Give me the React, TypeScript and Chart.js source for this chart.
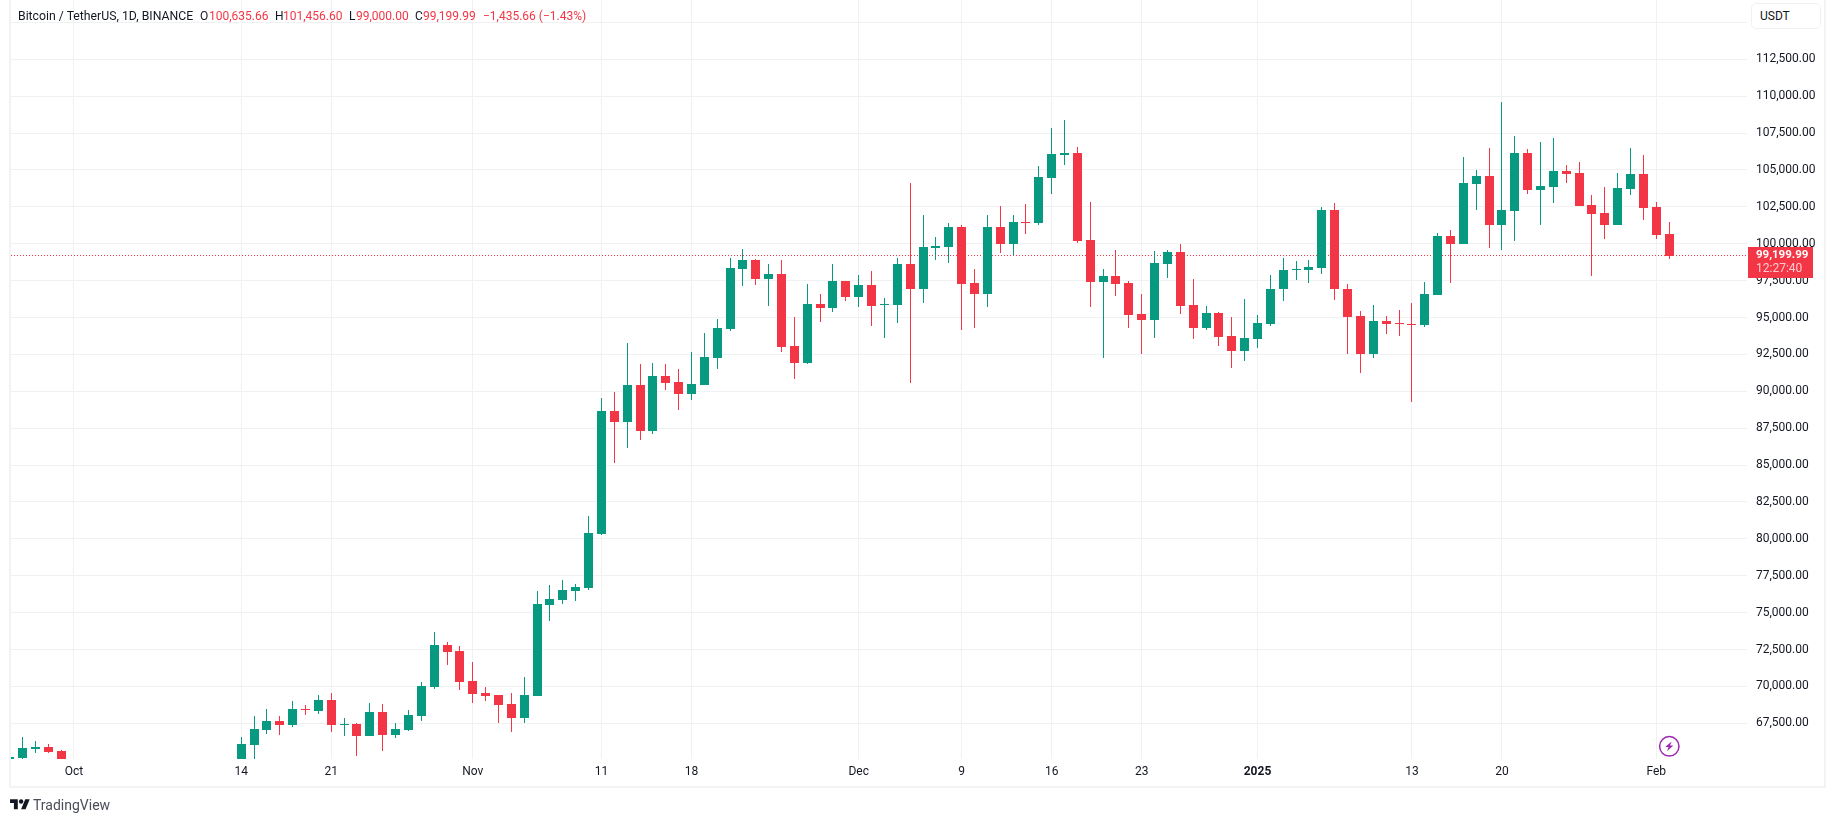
import React, { useEffect, useRef } from "react";
import { Chart, registerables } from "chart.js";

Chart.register(...registerables);

const FONT = "Roboto, sans-serif";
const UP = "#089981";
const DOWN = "#F23645";
const GRID = "#f0f1f3";
const TEXT = "#131722";

const firstDay = -18;

const opens = [
  63150, 65149, 65759, 65895, 65623,
  null, null, null, null, null, null, null, null, null, null, null, null, null,
  62850, 66030, 67047, 67657, 67386, 68470, 68334, 69080, 67386, 67453, 66640, 68267, 66708, 67047, 67995, 69960, 72807, 72400,
  70368, 69554, 69418, 68808, 67860, 69350, 75518, 75857, 76467, 76670, 80330, 88666, 87920, 90428, 87310, 91038, 90631, 89818, 90428, 92257,
  94222, 98288, 98898, 97611, 97950, 93070, 91918, 95917, 95646, 97475,
  96391, 97204, 95849, 95849, 98627, 96933, 99712, 99780, 101135, 97340, 96594, 101135, 99983, 101474, 101406, 104456, 106014, 106150, 100254, 97407, 97814, 97340, 95239, 94832, 98627, 99441, 95849, 94290, 95306, 93748, 92731,
  93545, 94561, 96933, 98221, 98221, 98356, 102287, 96961, 95103, 92528, 94764, 94629, 94561, 94493, 96526, 100525, 99983, 104049, 104591, 101270, 102219, 106149, 103642, 103845, 104930, 104794, 102625, 102083, 101270, 103710, 104726,
  102490, 100635.66,
];
const highs = [
  65240, 66572, 66301, 66121, 65691,
  null, null, null, null, null, null, null, null, null, null, null, null, null,
  66572, 67995, 68470, 67995, 69012, 68741, 69419, 69554, 67860, 67521, 68876, 68809, 67521, 68402, 70300, 73688, 73010, 72739,
  71655, 69961, 69418, 69554, 70638, 76467, 76874, 77212, 76941, 81550, 89547, 89953, 93274, 91851, 91919, 91851, 91512, 92664, 93952, 94900,
  99034, 99644, 98966, 98627, 98898, 95036, 97272, 96594, 98627, 97475,
  97882, 98153, 96323, 99034, 104117, 101948, 100457, 101406, 101270, 98288, 101948, 102558, 101948, 102694, 105269, 107844, 108386, 106557, 102829, 98288, 99576, 97475, 96594, 99508, 99576, 99983, 97611, 95781, 95374, 95036, 96256,
  95171, 97882, 99034, 98830, 98898, 102490, 102761, 97272, 95442, 95849, 95103, 95509, 95984, 97407, 100728, 100931, 105878, 104997, 106488, 109606, 107301, 106420, 106895, 107166, 105336, 105540, 103303, 103845, 104794, 106488, 106014,
  102829, 101456.6,
];
const lows = [
  62700, 64800, 65488, 65488, 62900,
  null, null, null, null, null, null, null, null, null, null, null, null, null,
  62500, 64800, 66776, 66708, 67250, 68063, 68131, 66911, 66640, 65285, 66640, 65624, 66505, 66979, 67657, 69825, 71452, 69758,
  68876, 69012, 67521, 66911, 67521, 69350, 74434, 75586, 75790, 76534, 80262, 85141, 86158, 86700, 87107, 90089, 88733, 89411, 90428, 91512,
  94087, 97136, 97204, 95781, 92664, 90834, 91850, 94697, 95374, 96120,
  95713, 94425, 93612, 94629, 90563, 95984, 98898, 98695, 94155, 94290, 95713, 99373, 99237, 100661, 101270, 103371, 105336, 100051, 95713, 92257, 96459, 94290, 92528, 93612, 97679, 95239, 93545, 94155, 93070, 91579, 92054,
  92935, 94425, 96120, 97543, 97340, 97950, 96188, 92528, 91240, 92257, 93883, 93747, 89275, 94357, 96526, 97339, 99983, 102287, 99711, 99576, 100186, 103371, 101270, 102761, 104116, 102558, 97814, 100321, 101270, 103303, 101609,
  100321, 99000,
];
const closes = [
  65220, 65827, 65895, 65556, 63300,
  null, null, null, null, null, null, null, null, null, null, null, null, null,
  66098, 67114, 67657, 67386, 68470, 68402, 69080, 67386, 67453, 66640, 68267, 66708, 67114, 68063, 70028, 72807, 72333, 70300,
  69486, 69350, 68740, 67860, 69418, 75586, 75924, 76534, 76738, 80397, 88666, 87920, 90428, 87310, 91038, 90563, 89818, 90496, 92325, 94291,
  98356, 98898, 97611, 97950, 92998, 91918, 95917, 95646, 97475, 96391,
  97204, 95781, 95917, 98627, 96933, 99780, 99848, 101135, 97272, 96594, 101135, 99983, 101474, 101406, 104523, 106082, 106150, 100186, 97407, 97814, 97272, 95171, 94832, 98695, 99441, 95781, 94290, 95306, 93680, 92731, 93612,
  94629, 96961, 98221, 98288, 98424, 102287, 96933, 95036, 92528, 94764, 94561, 94561, 94493, 96594, 100525, 99983, 104116, 104591, 101270, 102287, 106149, 103642, 103913, 104930, 104726, 102558, 102015, 101270, 103778, 104726, 102422,
  100592, 99199.99,
];

const tickDays = [-13, 0, 7, 18, 28, 35, 48, 56, 63, 70, 79, 91, 98, 110];
const tickLabels = ["Oct", "14", "21", "Nov", "11", "18", "Dec", "9", "16", "23", "2025", "13", "20", "Feb"];
const boldTick = "2025";

const priceTicks = [
  115000, 112500, 110000, 107500, 105000, 102500, 100000, 97500, 95000, 92500, 90000, 87500, 85000, 82500,
  80000, 77500, 75000, 72500, 70000, 67500,
];
const lastPrice = 99199.99;

const formatPrice = (v: number) =>
  v.toLocaleString("en-US", { minimumFractionDigits: 2, maximumFractionDigits: 2 });

const candlePlugin = {
  id: "candleSnap",
  beforeDatasetsDraw(chart: any) {
    // keep the candles crisp on the pixel grid, and draw the last-price line under them
    chart.data.datasets.forEach((_: any, di: number) => {
      chart.getDatasetMeta(di).data.forEach((el: any) => {
        el.x = Math.floor(el.x) + 0.5;
        const top = Math.round(Math.min(el.y, el.base));
        let bottom = Math.round(Math.max(el.y, el.base));
        if (bottom <= top) bottom = top + 1;
        el.y = top;
        el.base = bottom;
      });
    });
    const { ctx, chartArea, scales } = chart;
    const y = Math.floor(scales.y.getPixelForValue(lastPrice)) + 0.5;
    ctx.save();
    ctx.strokeStyle = DOWN;
    ctx.lineWidth = 1;
    ctx.setLineDash([1, 2]);
    ctx.beginPath();
    ctx.moveTo(chartArea.left, y);
    ctx.lineTo(chartArea.right, y);
    ctx.stroke();
    ctx.restore();
  },
  afterDraw(chart: any) {
    const { ctx } = chart;
    ctx.save();
    ctx.fillStyle = "#f2f3f5";
    ctx.fillRect(9, 0, 2, 788);
    ctx.fillRect(1824, 0, 2, 788);
    ctx.fillRect(9, 786, 1817, 2);
    ctx.restore();
  },
};

const abs = (left: number, top: number, extra: React.CSSProperties = {}): React.CSSProperties => ({
  position: "absolute",
  left,
  top,
  whiteSpace: "nowrap",
  fontFamily: FONT,
  fontSize: 12,
  lineHeight: "16px",
  ...extra,
});

export default function App() {
  const ref = useRef<HTMLCanvasElement | null>(null);

  useEffect(() => {
    document.body.style.margin = "0";
    const rows = opens
      .map((o, i) => ({ x: i + firstDay, o, h: highs[i], l: lows[i], c: closes[i] }))
      .filter((r) => r.o !== null) as { x: number; o: number; h: number; l: number; c: number }[];
    const colors = rows.map((r) => (r.c >= r.o ? UP : DOWN));
    const chart = new Chart(ref.current as HTMLCanvasElement, {
      type: "bar",
      data: {
        datasets: [
          {
            label: "Body",
            data: rows.map((r) => ({ x: r.x, y: [r.o, r.c] })),
            backgroundColor: colors,
            barThickness: 9,
            grouped: false,
            clip: 0,
            inflateAmount: 0,
            borderWidth: 0,
          },
          {
            label: "Wick",
            data: rows.map((r) => ({ x: r.x, y: [r.l, r.h] })),
            backgroundColor: colors,
            barThickness: 1,
            grouped: false,
            clip: 0,
            inflateAmount: 0,
            borderWidth: 0,
          },
        ] as any,
      },
      plugins: [candlePlugin],
      options: {
        animation: false,
        responsive: false,
        devicePixelRatio: 1,
        layout: { padding: { left: 11, right: 10, top: 0, bottom: 36 } },
        plugins: { legend: { display: false }, tooltip: { enabled: false } },
        scales: {
          x: {
            type: "linear",
            offset: false,
            min: -17.895,
            max: 117.05,
            grid: { color: GRID, lineWidth: 1, drawTicks: false, offset: false },
            border: { display: false },
            afterBuildTicks: (axis: any) => {
              axis.ticks = tickDays.map((value) => ({ value }));
            },
            afterFit: (axis: any) => {
              axis.height = 27;
              axis.paddingLeft = 0;
              axis.paddingRight = 0;
            },
            ticks: {
              autoSkip: false,
              maxRotation: 0,
              padding: 6,
              color: TEXT,
              font: (ctx: any) => ({
                family: FONT,
                size: 12,
                weight: ctx.tick && ctx.tick.label === boldTick ? "bold" : "normal",
              }),
              callback: (value: any) => tickLabels[tickDays.indexOf(Number(value))] ?? "",
            },
          },
          y: {
            type: "linear",
            position: "right",
            min: 65082,
            max: 116519,
            grid: { color: GRID, lineWidth: 1, drawTicks: false },
            border: { display: false },
            afterBuildTicks: (axis: any) => {
              axis.ticks = priceTicks.map((value) => ({ value }));
            },
            afterFit: (axis: any) => {
              axis.width = 78;
              axis.paddingTop = 0;
              axis.paddingBottom = 0;
            },
            ticks: {
              autoSkip: false,
              padding: 9,
              color: TEXT,
              font: { family: FONT, size: 12 },
              callback: (value: any) => (Number(value) === 115000 ? "" : formatPrice(Number(value))),
            },
          },
        },
      } as any,
    });
    return () => chart.destroy();
  }, []);

  return (
    <div style={{ position: "absolute", left: 0, top: 0, width: 1835, height: 822, background: "#fff", overflow: "hidden" }}>
      <canvas ref={ref} width={1835} height={822} style={{ display: "block", width: 1835, height: 822 }} />

      <span style={abs(18, 8, { color: TEXT, fontSize: 12.25 })}>Bitcoin / TetherUS, 1D, BINANCE</span>
      <span style={abs(200, 8, { color: TEXT })}>O</span>
      <span style={abs(209, 8, { color: DOWN })}>100,635.66</span>
      <span style={abs(275, 8, { color: TEXT })}>H</span>
      <span style={abs(283, 8, { color: DOWN })}>101,456.60</span>
      <span style={abs(349, 8, { color: TEXT })}>L</span>
      <span style={abs(356, 8, { color: DOWN })}>99,000.00</span>
      <span style={abs(415, 8, { color: TEXT })}>C</span>
      <span style={abs(423, 8, { color: DOWN })}>99,199.99</span>
      <span style={abs(483, 8, { color: DOWN })}>−1,435.66 (−1.43%)</span>

      <div
        style={abs(1751, 3, {
          width: 70,
          height: 26,
          boxSizing: "border-box",
          border: "1px solid #f0f1f3",
          borderRadius: 5,
          background: "#fff",
          color: TEXT,
          paddingLeft: 8,
          lineHeight: "24px",
        })}
      >
        USDT
      </div>

      <div style={abs(1748, 247, { width: 65, height: 31, background: DOWN })} />
      <span style={abs(1756, 246, { color: "#fff", fontWeight: 700, fontSize: 11.5 })}>99,199.99</span>
      <span style={abs(1756, 260, { color: "#ffc9ce" })}>12:27:40</span>

      <svg style={{ position: "absolute", left: 1658, top: 735 }} width={23} height={23} viewBox="0 0 23 23">
        <circle cx="11.3" cy="11.3" r="9.7" fill="none" stroke="#9c27b0" strokeWidth="1.5" />
        <path d="M13.6 6.4 L7.2 12 L10.6 12 L9 16.2 L15.4 10.6 L12 10.6 Z" fill="#9c27b0" />
      </svg>

      <svg style={{ position: "absolute", left: 10, top: 797 }} width={20} height={15.5} viewBox="0 0 36 28" fill="#131722">
        <path d="M14 22H7V11H0V4h14v18zM28 22h-8l7.5-18h8L28 22z" />
        <circle cx="20" cy="8" r="4" />
      </svg>
      <span style={abs(33, 797, { fontSize: 14, color: "#4a4e58" })}>TradingView</span>
    </div>
  );
}
